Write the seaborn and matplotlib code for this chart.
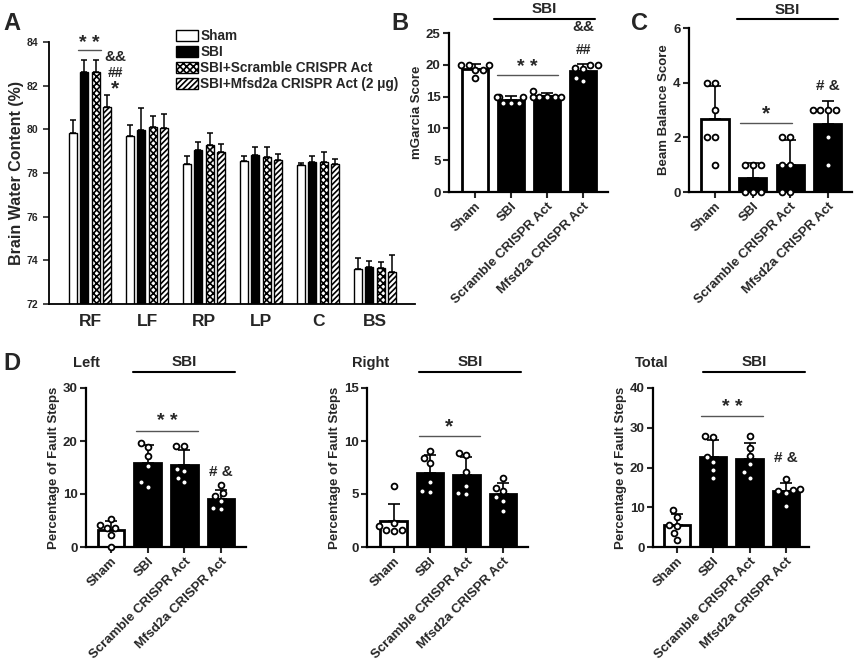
import numpy as np
import pandas as pd
import matplotlib
matplotlib.use("Agg")
import matplotlib.pyplot as plt
import seaborn as sns
from matplotlib.patches import Patch

sns.set_theme(style="ticks")
plt.rcParams["font.family"] = ["Liberation Sans", "DejaVu Sans"]
plt.rcParams["font.weight"] = "bold"
plt.rcParams["axes.labelweight"] = "bold"
plt.rcParams["hatch.linewidth"] = 1.2

# ---------------- Panel A data ----------------
regions = ["RF", "LF", "RP", "LP", "C", "BS"]
a_groups = ["Sham", "SBI", "SBI+Scramble CRISPR Act", "SBI+Mfsd2a CRISPR Act (2 μg)"]
a_sham = [79.85, 79.70, 78.42, 78.56, 78.37, 73.59]
a_sbi = [82.63, 79.98, 79.06, 78.83, 78.50, 73.68]
a_scr = [82.63, 80.10, 79.26, 78.71, 78.51, 73.63]
a_mfsd = [81.02, 80.08, 78.98, 78.59, 78.40, 73.48]
a_sham_err = [0.56, 0.49, 0.38, 0.20, 0.08, 0.50]
a_sbi_err = [0.56, 0.98, 0.38, 0.34, 0.30, 0.29]
a_scr_err = [0.56, 0.49, 0.58, 0.47, 0.47, 0.31]
a_mfsd_err = [0.53, 0.63, 0.34, 0.30, 0.26, 0.76]

# ---------------- Behaviour panels ----------------
cats = ["Sham", "SBI", "Scramble CRISPR Act", "Mfsd2a CRISPR Act"]

b_sham = [20.0, 20.0, 20.0, 19.2, 19.2, 18.0]
b_sbi = [15.0, 15.0, 15.0, 14.0, 14.0, 14.0]
b_scr = [15.0, 15.0, 15.0, 15.0, 15.0, 15.9]
b_mfsd = [20.0, 20.0, 19.5, 19.3, 18.0, 17.5]

c_sham = [4, 4, 3, 2, 2, 1]
c_sbi = [1, 1, 1, 0, 0, 0]
c_scr = [2, 2, 1, 1, 0, 0]
c_mfsd = [3, 3, 3, 3, 2, 1]

dl_sham = [5.3, 4.1, 3.6, 3.5, 2.2, 0.0]
dl_sbi = [18.9, 19.7, 17.2, 15.2, 12.3, 11.4]
dl_scr = [19.0, 19.1, 14.7, 14.4, 13.0, 12.2]
dl_mfsd = [11.7, 9.6, 10.1, 8.7, 7.3, 7.1]

dr_sham = [5.75, 2.3, 2.0, 1.6, 1.6, 1.55]
dr_sbi = [9.1, 8.4, 7.9, 6.1, 5.3, 5.2]
dr_scr = [8.7, 8.85, 7.05, 5.8, 5.1, 5.0]
dr_mfsd = [6.5, 5.6, 5.3, 4.7, 4.3, 3.4]

dt_sham = [9.2, 7.6, 5.6, 5.4, 3.6, 1.8]
dt_sbi = [27.6, 27.9, 22.7, 21.5, 19.4, 17.4]
dt_scr = [27.9, 25.0, 23.0, 21.0, 18.8, 17.4]
dt_mfsd = [17.2, 14.6, 14.4, 14.0, 13.6, 10.4]

W, H = 857, 665
fig = plt.figure(figsize=(W / 100, H / 100), dpi=100)


def px_axes(x0, y0, x1, y1):
    return fig.add_axes([x0 / W, 1 - y1 / H, (x1 - x0) / W, (y1 - y0) / H])


def style_axes(ax, lw=1.6):
    sns.despine(ax=ax)
    for s in ["left", "bottom"]:
        ax.spines[s].set_linewidth(lw)
        ax.spines[s].set_color("black")


# ---------------- Panel A ----------------
axA = px_axes(49, 42, 415, 304)
rows = []
for g, vals in zip(a_groups, [a_sham, a_sbi, a_scr, a_mfsd]):
    for r, v in zip(regions, vals):
        rows.append({"region": r, "group": g, "value": v})
dfA = pd.DataFrame(rows)
sns.barplot(data=dfA, x="region", y="value", hue="group", order=regions,
            hue_order=a_groups, errorbar=None, width=0.8, gap=0.3,
            ax=axA, legend=False)
styles = [dict(fc="white", hatch=None), dict(fc="black", hatch=None),
          dict(fc="white", hatch="xxxxx"), dict(fc="white", hatch="//////")]
errs = [a_sham_err, a_sbi_err, a_scr_err, a_mfsd_err]
for cont, st, er in zip(axA.containers, styles, errs):
    xs, ys = [], []
    for p in cont.patches:
        p.set_facecolor(st["fc"])
        p.set_edgecolor("black")
        p.set_linewidth(1.0)
        if st["hatch"]:
            p.set_hatch(st["hatch"])
        xs.append(p.get_x() + p.get_width() / 2)
        ys.append(p.get_height())
    axA.errorbar(xs, ys, yerr=[np.zeros(len(er)), er], fmt="none",
                 ecolor="black", elinewidth=1.1, capsize=2.5, capthick=1.1, zorder=3)
axA.set_ylim(72, 84)
axA.set_yticks(np.arange(72, 85, 2))
axA.set_xlim(-0.72, 5.70)
axA.set_xlabel("")
axA.set_ylabel("Brain Water Content (%)", fontsize=11.5, fontweight="bold", labelpad=2)
axA.tick_params(axis="y", labelsize=7.5, width=1.2, length=4, direction="out")
axA.tick_params(axis="x", labelsize=12.5, length=0, pad=7)
style_axes(axA, lw=1.3)
leg_handles = [Patch(facecolor=st["fc"], edgecolor="black", hatch=st["hatch"], linewidth=1.0)
               for st in styles]
axA.legend(leg_handles, a_groups, loc="upper left", bbox_to_anchor=(176 / W, 1 - 29 / H),
           bbox_transform=fig.transFigure, frameon=False, fontsize=9.8,
           handlelength=1.6, handleheight=0.9, labelspacing=0.15, handletextpad=0.2,
           borderpad=0, borderaxespad=0)
axA.plot([-0.21, 0.19], [83.63, 83.63], color="#555555", lw=1.0, clip_on=False)
axA.text(-0.01, 83.55, "* *", ha="center", va="bottom", fontsize=14, fontweight="bold", clip_on=False)
axA.text(0.44, 83.3, "&&", ha="center", va="center", fontsize=11, fontweight="bold")
axA.text(0.44, 82.6, "##", ha="center", va="center", fontsize=10, fontweight="bold")
axA.text(0.44, 81.85, "*", ha="center", va="center", fontsize=15, fontweight="bold")


# ---------------- Behaviour panel helper ----------------
def behav(ax, pts, ylim, yticks, ylabel, xlim, ylabelsize=9.5):
    df = pd.DataFrame({"group": np.repeat(cats, [len(p) for p in pts]),
                       "value": np.concatenate(pts)})
    sns.barplot(data=df, x="group", y="value", hue="group", order=cats, hue_order=cats,
                palette=["white", "black", "black", "black"], errorbar=None,
                width=0.72, edgecolor="black", linewidth=2.0, legend=False, ax=ax)
    means = df.groupby("group")["value"].mean().reindex(cats).values
    sds = df.groupby("group")["value"].std().reindex(cats).values
    ax.errorbar(np.arange(4), means, yerr=[np.zeros(4), sds], fmt="none",
                ecolor="black", elinewidth=1.2, capsize=4, capthick=1.2, zorder=3)
    sns.swarmplot(data=df, x="group", y="value", order=cats, color="white",
                  edgecolor="black", linewidth=1.3, size=4.2, ax=ax, zorder=4)
    for coll in ax.collections:
        coll.set_clip_on(False)
    ax.set_ylim(*ylim)
    ax.set_yticks(yticks)
    ax.set_xlim(*xlim)
    ax.set_xlabel("")
    ax.set_ylabel(ylabel, fontsize=ylabelsize, fontweight="bold", labelpad=2)
    ax.tick_params(axis="both", labelsize=9.5, width=1.5, length=4, direction="out", pad=2)
    ax.set_xticks(range(4))
    ax.set_xticklabels(cats, rotation=45, ha="right", rotation_mode="anchor",
                       fontsize=9.5, fontweight="bold")
    style_axes(ax)


def header(ax, x0, x1, yline, ytext, label="SBI", size=11):
    tr = ax.get_xaxis_transform()
    ax.plot([x0, x1], [yline, yline], color="black", lw=1.5, transform=tr, clip_on=False)
    ax.text((x0 + x1) / 2, ytext, label, transform=tr, ha="center", va="center",
            fontsize=size, fontweight="bold", clip_on=False)


def sig(ax, x0, x1, y, text, ytext, size=14):
    ax.plot([x0, x1], [y, y], color="#555555", lw=1.0, clip_on=False)
    ax.text((x0 + x1) / 2, ytext, text, ha="center", va="center",
            fontsize=size, fontweight="bold", clip_on=False)


# ---------------- Panel B ----------------
axB = px_axes(449, 33, 608, 192)
behav(axB, [b_sham, b_sbi, b_scr, b_mfsd], (0, 25), np.arange(0, 26, 5),
      "mGarcia Score", (-0.72, 3.69))
header(axB, 0.53, 3.33, 1.088, 1.15)
sig(axB, 0.61, 2.31, 18.4, "* *", 19.6)
axB.text(3.0, 26.0, "&&", ha="center", va="center", fontsize=11, fontweight="bold", clip_on=False)
axB.text(3.0, 22.3, "##", ha="center", va="center", fontsize=10, fontweight="bold", clip_on=False)

# ---------------- Panel C ----------------
axC = px_axes(689, 28, 852, 192)
behav(axC, [c_sham, c_sbi, c_scr, c_mfsd], (0, 6), np.arange(0, 7, 2),
      "Beam Balance Score", (-0.69, 3.64))
header(axC, 0.58, 3.26, 1.055, 1.11)
sig(axC, 0.66, 2.04, 2.52, "*", 2.85, size=15)
axC.text(3.0, 3.88, "# &", ha="center", va="center", fontsize=11, fontweight="bold")

# ---------------- Panel D ----------------
axDL = px_axes(86, 388, 246, 547)
behav(axDL, [dl_sham, dl_sbi, dl_scr, dl_mfsd], (0, 30), np.arange(0, 31, 10),
      "Percentage of Fault Steps", (-0.68, 3.68))
header(axDL, 0.61, 3.38, 1.10, 1.163)
axDL.text(0.003, 1.157, "Left", transform=axDL.transAxes, ha="center", va="center",
          fontsize=10.5, fontweight="bold")
sig(axDL, 0.68, 2.37, 21.9, "* *", 23.6)
axDL.text(3.0, 14.2, "# &", ha="center", va="center", fontsize=11, fontweight="bold")

axDR = px_axes(367, 388, 528, 547)
behav(axDR, [dr_sham, dr_sbi, dr_scr, dr_mfsd], (0, 15), np.arange(0, 16, 5),
      "Percentage of Fault Steps", (-0.73, 3.69))
header(axDR, 0.69, 3.51, 1.10, 1.163)
axDR.text(0.022, 1.157, "Right", transform=axDR.transAxes, ha="center", va="center",
          fontsize=10.5, fontweight="bold")
sig(axDR, 0.69, 2.37, 10.5, "*", 11.3, size=15)

axDT = px_axes(653, 388, 809, 547)
behav(axDT, [dt_sham, dt_sbi, dt_scr, dt_mfsd], (0, 40), np.arange(0, 41, 10),
      "Percentage of Fault Steps", (-0.66, 3.64))
header(axDT, 0.72, 3.53, 1.10, 1.163)
axDT.text(-0.01, 1.157, "Total", transform=axDT.transAxes, ha="center", va="center",
          fontsize=10.5, fontweight="bold")
sig(axDT, 0.66, 2.37, 33.0, "* *", 35.0)
axDT.text(3.0, 22.4, "# &", ha="center", va="center", fontsize=11, fontweight="bold")

# ---------------- Panel letters ----------------
for lab, x, y in [("A", 12, 23), ("B", 400, 24), ("C", 640, 23), ("D", 12, 363)]:
    fig.text(x / W, 1 - y / H, lab, ha="center", va="center", fontsize=17, fontweight="bold")

fig.savefig("out.png", dpi=100)
